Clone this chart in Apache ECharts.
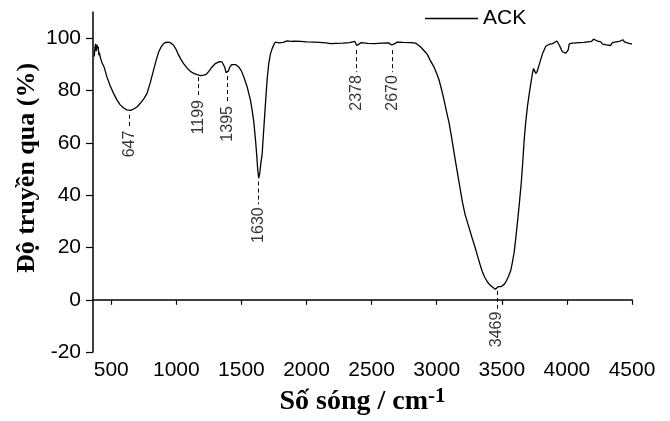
<!DOCTYPE html>
<html>
<head>
<meta charset="utf-8">
<script src="https://cdn.jsdelivr.net/npm/echarts@6/dist/echarts.min.js"></script>
<style>
  html, body { margin: 0; padding: 0; background: #fff; }
  #chart-container { width: 670px; height: 421px; }
</style>
</head>
<body>
<div id="chart-container"></div>
<script>
// FTIR spectrum of ACK
var wavenumber = [370, 375, 380, 385, 390, 395, 400, 405, 410, 415, 430, 445, 467, 490, 518, 545, 569, 595, 620, 647,
  672, 700, 723, 750, 775, 800, 825, 845, 864, 885, 902, 920, 941, 960, 979, 1000, 1018, 1040, 1056, 1080,
  1108, 1135, 1159, 1185, 1210, 1230, 1248, 1275, 1300, 1330, 1351, 1362, 1371, 1382, 1392, 1400, 1410, 1425, 1436, 1455,
  1479, 1500, 1518, 1544, 1569, 1582, 1595, 1608, 1618, 1625, 1633, 1641, 1650, 1659, 1670, 1684, 1697, 1710, 1722, 1736,
  1750, 1761, 1775, 1790, 1800, 1820, 1851, 1880, 1910, 1954, 2000, 2056, 2100, 2150, 2185, 2230, 2280, 2330, 2370, 2385,
  2395, 2420, 2470, 2520, 2580, 2630, 2655, 2675, 2697, 2740, 2800, 2838, 2860, 2877, 2903, 2928, 2950, 2979, 3000, 3018,
  3040, 3056, 3075, 3095, 3110, 3121, 3146, 3172, 3198, 3216, 3236, 3255, 3274, 3295, 3313, 3333, 3351, 3370, 3390, 3410,
  3428, 3440, 3450, 3457, 3465, 3472, 3480, 3492, 3505, 3518, 3531, 3550, 3569, 3582, 3595, 3605, 3615, 3633, 3650, 3660,
  3672, 3684, 3697, 3710, 3723, 3735, 3744, 3752, 3762, 3772, 3785, 3800, 3813, 3825, 3838, 3850, 3862, 3875, 3890, 3905,
  3923, 3935, 3945, 3954, 3965, 3980, 3992, 4000, 4010, 4018, 4025, 4040, 4055, 4070, 4085, 4100, 4115, 4130, 4145, 4160,
  4175, 4190, 4205, 4215, 4230, 4245, 4260, 4275, 4290, 4305, 4320, 4335, 4350, 4365, 4380, 4395, 4410, 4420, 4430, 4442,
  4455, 4470, 4485, 4500];
var transmittance = [93, 96.5, 97.8, 95, 97.5, 96, 96.8, 93.5, 94.5, 92.8, 90.5, 89, 85.2, 82, 78.9, 76.3, 74.5, 73.3, 72.6, 72.4,
  72.9, 73.8, 75.1, 76.8, 78.9, 83, 87.8, 91.5, 94.7, 96.8, 97.9, 98.4, 98.5, 98.1, 97.3, 95.5, 93.5, 91.5, 90.3, 88.7,
  87.3, 86.5, 86.1, 85.7, 85.9, 86.2, 87.2, 89, 90.3, 91, 90.9, 90.2, 89, 86.8, 86.2, 87.5, 88.8, 89.9, 90.3, 89.9,
  89.0, 87.5, 85.2, 81.4, 76.4, 72.6, 68, 61.2, 55, 49.8, 46.5, 48.5, 52.5, 55.5, 64, 74.5, 84, 90.3, 93.8, 96,
  97.6, 98.5, 97.8, 98.2, 97.6, 98.4, 99.0, 98.8, 98.9, 98.8, 98.6, 98.5, 98.4, 98.2, 97.9, 98.0, 98.1, 98.3, 98.8, 97.2,
  97.8, 98.3, 98.0, 97.9, 98.1, 98.2, 97.4, 97.8, 98.5, 98.4, 98.3, 98.1, 97.3, 96.6, 95.2, 93.8, 91.5, 89.0, 86.5, 84.0,
  79.8, 76.4, 72, 67.6, 63.3, 60, 52.4, 44.8, 37.2, 33, 29.6, 26.5, 23.3, 20, 16.9, 13.5, 10.6, 8.5, 6.8, 5.6,
  4.9, 4.6, 4.0, 4.5, 4.0, 5.0, 4.8, 5.0, 5.6, 5.9, 6.8, 8.8, 11.2, 14.5, 18.2, 22.5, 27.1, 35.9, 45, 52,
  61.2, 68, 73.9, 78.5, 82.7, 86.5, 88.4, 87.5, 86.5, 87.3, 89.5, 92, 94.1, 95.5, 96.9, 96.5, 97.6, 97.2, 97.9, 98.3,
  98.9, 98.4, 97, 96, 94.8, 94.6, 94.3, 94.3, 95.5, 97.8, 98.5, 98.1, 98.6, 98.2, 98.7, 98.3, 98.8, 98.4, 98.9, 98.6,
  99.2, 98.8, 99.6, 99.1, 99.0, 98.4, 98.6, 97.7, 97.9, 97.4, 98.1, 97.2, 98.3, 97.6, 98.6, 98.0, 98.9, 98.3, 99.4, 98.6,
  99.0, 98.1, 98.4, 97.7];

// peak annotations: position, dashed line from lineTop down to lineBottom, then the label
var peakText = ['647', '1199', '1395', '1630', '2378', '2670', '3469'];
var peakX = [640, 1170, 1392, 1630, 2383, 2662, 3462];
var lineTop = [70.7, 85.1, 85.5, 45.2, 95.4, 95.4, 3.4];
var lineBottom = [65.8, 77.5, 75.2, 36.5, 87, 87, -3.4];

var xTicks = [500, 1000, 1500, 2000, 2500, 3000, 3500, 4000, 4500];
var yTicks = [-20, 0, 20, 40, 60, 80, 100];

var chartDom = document.getElementById('chart-container');
var myChart = echarts.init(chartDom);

var spectrum = wavenumber.map(function (x, i) { return [x, transmittance[i]]; });
var peakLines = peakX.map(function (x, i) {
  return [{ coord: [x, lineTop[i]] }, { coord: [x, lineBottom[i]] }];
});
var peakLabels = peakX.map(function (x, i) { return [x, lineBottom[i]]; });

var sans = '"Liberation Sans", Arial, sans-serif';
var serif = '"Liberation Serif", "Times New Roman", serif';

var option = {
  animation: false,
  grid: { left: 93, right: 38, top: 12, bottom: 67 },
  legend: {
    data: ['ACK'],
    left: 425,
    top: 8,
    padding: 0,
    icon: 'rect',
    itemWidth: 53,
    itemHeight: 1.5,
    textStyle: { fontFamily: sans, fontSize: 21, color: '#000' }
  },
  xAxis: {
    type: 'value',
    min: 360,
    max: 4500,
    name: '{m|Số sóng / cm}{s|-1}',
    nameLocation: 'middle',
    nameGap: 32,
    nameTextStyle: {
      rich: {
        m: { fontFamily: serif, fontWeight: 'bold', fontSize: 28, lineHeight: 32, color: '#000' },
        s: { fontFamily: serif, fontWeight: 'bold', fontSize: 21, lineHeight: 20, verticalAlign: 'top', color: '#000' }
      }
    },
    axisLine: { lineStyle: { color: '#000', width: 1.5 } },
    axisTick: { length: 5, customValues: xTicks, lineStyle: { color: '#000', width: 1.2 } },
    axisLabel: {
      customValues: xTicks, margin: 8, fontFamily: sans, fontSize: 21, color: '#000',
      formatter: function (v) { return String(v); }
    },
    splitLine: { show: false }
  },
  yAxis: {
    type: 'value',
    min: -20,
    max: 110,
    axisLine: { show: true, lineStyle: { color: '#000', width: 1.5 } },
    axisTick: { show: true, length: 7, customValues: yTicks, lineStyle: { color: '#000', width: 1.2 } },
    axisLabel: { customValues: yTicks, margin: 12, fontFamily: sans, fontSize: 21, color: '#000' },
    splitLine: { show: false }
  },
  graphic: [{
    type: 'text',
    x: 27,
    y: 168,
    rotation: Math.PI / 2,
    style: {
      text: 'Độ truyền qua (%)',
      font: 'bold 26px ' + serif,
      fill: '#000',
      align: 'center',
      verticalAlign: 'middle'
    }
  }],
  series: [
    {
      name: 'ACK',
      type: 'line',
      data: spectrum,
      symbol: 'none',
      lineStyle: { color: '#000', width: 1.3 },
      itemStyle: { color: '#000' },
      markLine: {
        silent: true,
        symbol: ['none', 'none'],
        label: { show: false },
        lineStyle: { color: '#000', width: 1, type: [4, 3] },
        data: peakLines
      }
    },
    {
      name: 'peaks',
      type: 'scatter',
      data: peakLabels,
      symbolSize: 0,
      silent: true,
      label: {
        show: true,
        position: 'bottom',
        distance: 3,
        rotate: 90,
        align: 'right',
        verticalAlign: 'middle',
        fontFamily: sans,
        fontSize: 16,
        color: '#000',
        formatter: function (p) { return peakText[p.dataIndex]; }
      }
    }
  ]
};

option && myChart.setOption(option);
</script>
</body>
</html>
